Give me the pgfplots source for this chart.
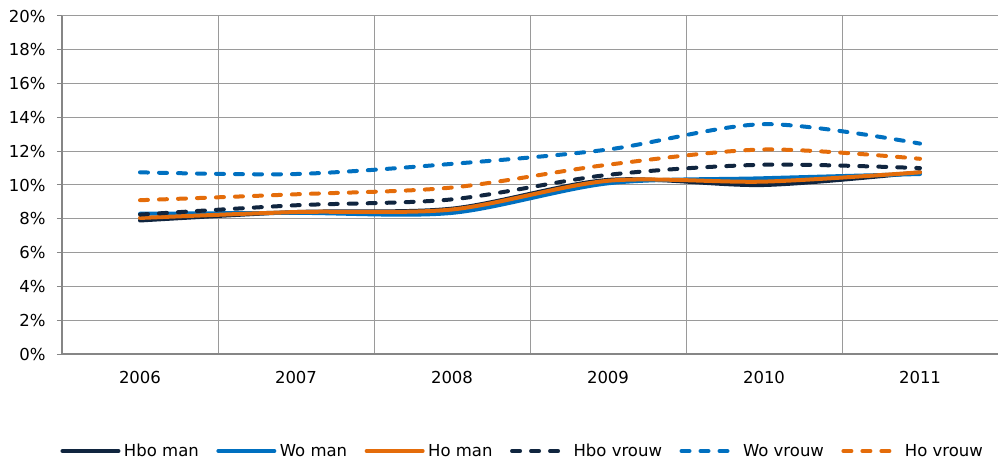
\documentclass[border=0pt]{standalone}
\usepackage{fontspec}
\setmainfont{DejaVu Sans}
\usepackage{pgfplots}
\pgfplotsset{compat=1.18}
\definecolor{cnavy}{HTML}{10253F}
\definecolor{cblue}{HTML}{0070C0}
\definecolor{corange}{HTML}{E46C0A}
\definecolor{cgrid}{HTML}{9A9A9A}
\definecolor{caxis}{HTML}{868686}
\begin{document}
\begin{tikzpicture}
\useasboundingbox (-62pt,-106pt) rectangle (936pt,354pt);
\begin{axis}[
  scale only axis,
  width=936pt, height=338pt,
  xmin=0.5, xmax=6.5, ymin=0, ymax=20,
  xtick={1,2,3,4,5,6},
  xticklabels={2006,2007,2008,2009,2010,2011},
  minor xtick={0.5,1.5,...,6.5},
  xminorgrids=true, xmajorgrids=false,
  ytick={0,2,...,20},
  yticklabels={0\%,2\%,4\%,6\%,8\%,10\%,12\%,14\%,16\%,18\%,20\%},
  ymajorgrids=true,
  grid style={cgrid, line width=1pt},
  minor grid style={cgrid, line width=1pt},
  axis line style={caxis, line width=1.5pt},
  axis x line*=bottom, axis y line*=left,
  x axis line style={-}, y axis line style={-},
  major tick length=5pt,
  minor tick length=0pt,
  xtick style={draw=none},
  ytick style={caxis, line width=1pt},
  tick align=outside,
  xticklabel style={font=\fontsize{16.5}{19}\selectfont, yshift=-9pt},
  yticklabel style={font=\fontsize{16.5}{19}\selectfont, xshift=-8pt},
  tick label style={text=black},
  legend columns=6,
  legend style={at={(0.493,-0.287)}, anchor=center, draw=none, fill=none,
    font=\fontsize{16.5}{19}\selectfont,
    nodes={inner xsep=3.5pt},
    /tikz/every even column/.append style={column sep=14pt}},
  legend image code/.code={\draw[#1] (0pt,0pt) -- (56pt,0pt);},
  every axis plot/.append style={line width=4pt, smooth, tension=0.5, line cap=round},
  clip=false,
]
\addplot[cnavy] coordinates {(1,7.9) (2,8.4) (3,8.6) (4,10.3) (5,10.0) (6,10.75)};
\addlegendentry{Hbo man}
\addplot[cblue] coordinates {(1,8.3) (2,8.35) (3,8.35) (4,10.1) (5,10.4) (6,10.65)};
\addlegendentry{Wo man}
\addplot[corange] coordinates {(1,8.05) (2,8.4) (3,8.55) (4,10.25) (5,10.2) (6,10.75)};
\addlegendentry{Ho man}
\addplot[cnavy, dash pattern=on 8pt off 11pt] coordinates {(1,8.25) (2,8.8) (3,9.15) (4,10.6) (5,11.2) (6,11.0)};
\addlegendentry{Hbo vrouw}
\addplot[cblue, dash pattern=on 8pt off 11pt] coordinates {(1,10.75) (2,10.65) (3,11.25) (4,12.1) (5,13.6) (6,12.45)};
\addlegendentry{Wo vrouw}
\addplot[corange, dash pattern=on 8pt off 11pt] coordinates {(1,9.1) (2,9.45) (3,9.85) (4,11.2) (5,12.1) (6,11.55)};
\addlegendentry{Ho vrouw}
\end{axis}
\end{tikzpicture}
\end{document}
